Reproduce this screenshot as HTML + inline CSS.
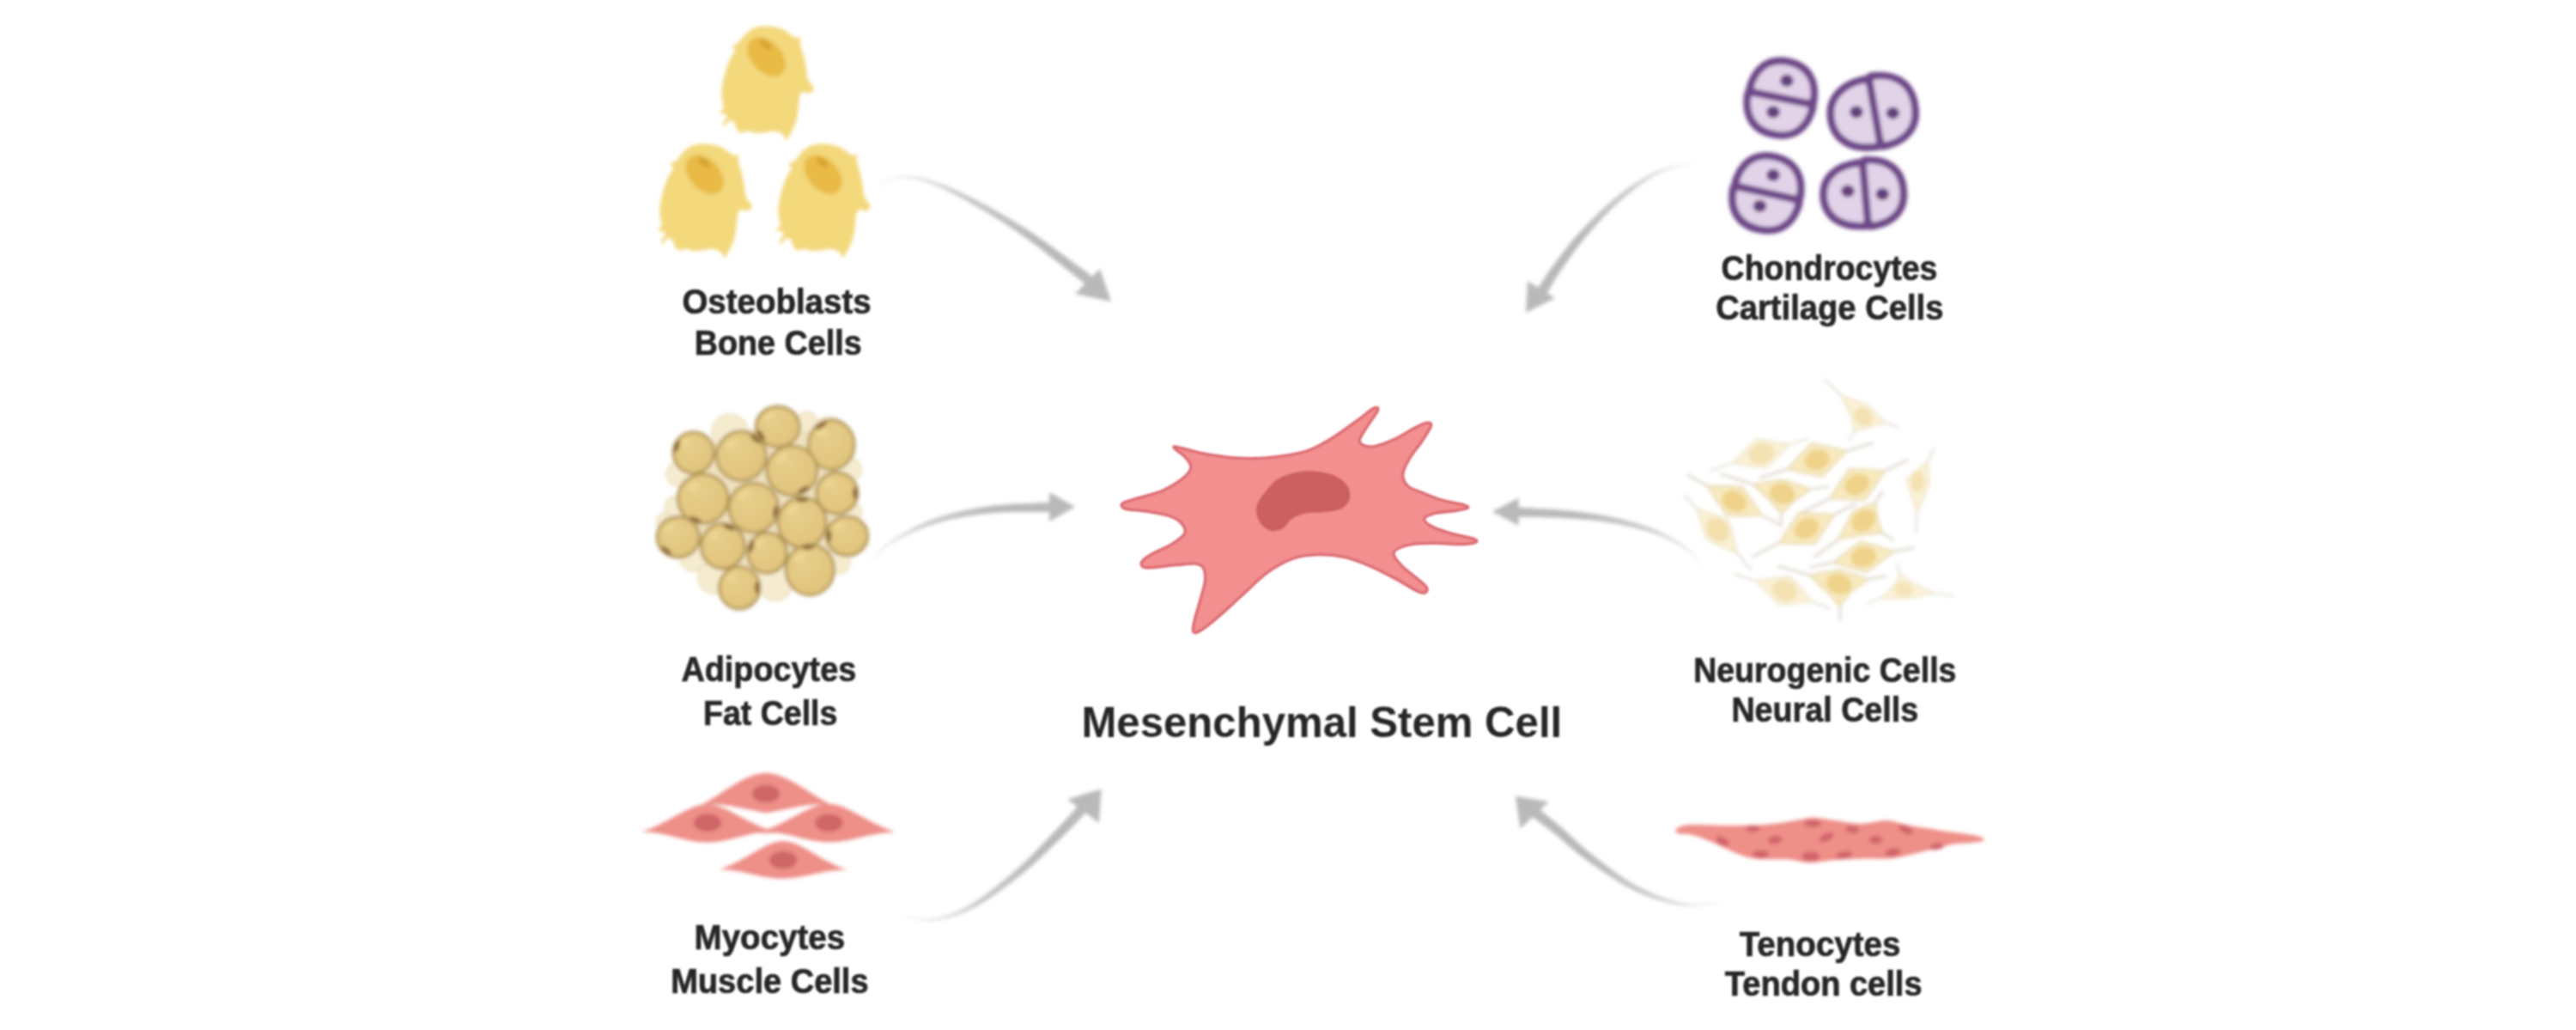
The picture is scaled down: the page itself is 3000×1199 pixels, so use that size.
<!DOCTYPE html>
<html lang="en"><head><meta charset="utf-8"><title>Mesenchymal Stem Cell differentiation</title>
<style>html,body{margin:0;padding:0;background:#fff}body{width:3000px;height:1199px;overflow:hidden}svg{display:block}</style>
</head><body>
<svg width="3000" height="1199" viewBox="0 0 3000 1199">
<defs><radialGradient id="adg" cx="0.4" cy="0.35" r="0.75"><stop offset="0" stop-color="#e7cf8a"/><stop offset="0.75" stop-color="#e2c680"/><stop offset="1" stop-color="#dcbe76"/></radialGradient><filter id="soft" x="-2%" y="-2%" width="104%" height="104%"><feGaussianBlur stdDeviation="1.9"/></filter><filter id="softt" x="-2%" y="-2%" width="104%" height="104%"><feGaussianBlur stdDeviation="1.15"/></filter></defs>
<rect width="3000" height="1199" fill="#fff"/>
<g filter="url(#soft)">
<g id="arrows"><linearGradient id="a1" gradientUnits="userSpaceOnUse" x1="1023.0" y1="216.0" x2="1270.0" y2="328.0"><stop offset="0" stop-color="#bdbcbc" stop-opacity="0.15"/><stop offset="0.35" stop-color="#bdbcbc" stop-opacity="0.8"/><stop offset="0.7" stop-color="#bab9b9" stop-opacity="1"/></linearGradient><path d="M1023.2 216.5L1024.8 215.9L1026.8 215.0L1029.1 213.9L1031.8 212.7L1034.6 211.4L1037.6 210.2L1040.7 209.1L1043.8 208.3L1047.0 207.6L1050.1 207.4L1053.2 207.4L1056.5 207.6L1059.8 208.0L1063.2 208.5L1066.8 209.2L1070.4 210.1L1074.2 211.1L1078.1 212.3L1082.1 213.6L1086.3 215.1L1090.5 216.8L1095.0 218.6L1099.5 220.7L1104.2 222.9L1109.0 225.2L1113.9 227.7L1118.9 230.3L1124.0 233.1L1129.2 235.9L1134.4 238.9L1139.8 241.9L1145.3 245.2L1150.9 248.5L1156.7 252.0L1162.4 255.6L1168.3 259.2L1174.1 263.0L1180.0 266.9L1185.8 270.8L1191.5 274.7L1197.4 278.9L1203.5 283.4L1209.8 288.1L1216.1 293.0L1222.4 297.9L1228.5 302.7L1234.3 307.2L1239.6 311.5L1244.5 315.3L1248.6 318.5L1252.1 321.2L1254.9 323.5L1257.3 325.4L1259.3 327.0L1261.0 328.3L1262.3 329.4L1263.4 330.4L1264.4 331.2L1265.4 332.0L1266.3 332.7L1273.7 323.3L1272.8 322.6L1271.9 321.9L1270.9 321.1L1269.7 320.2L1268.3 319.1L1266.6 317.7L1264.5 316.2L1262.0 314.3L1258.9 312.1L1255.4 309.5L1251.2 306.4L1246.3 302.8L1240.8 298.7L1234.9 294.3L1228.6 289.7L1222.1 285.0L1215.5 280.3L1209.0 275.7L1202.6 271.3L1196.5 267.3L1190.5 263.5L1184.5 259.7L1178.5 256.1L1172.5 252.4L1166.4 248.9L1160.5 245.5L1154.6 242.2L1148.8 239.0L1143.1 236.0L1137.6 233.1L1132.2 230.3L1126.8 227.7L1121.6 225.1L1116.4 222.6L1111.4 220.3L1106.4 218.1L1101.5 216.0L1096.8 214.1L1092.2 212.4L1087.7 210.9L1083.4 209.5L1079.3 208.3L1075.2 207.3L1071.3 206.4L1067.5 205.7L1063.8 205.1L1060.2 204.7L1056.7 204.5L1053.3 204.5L1049.9 204.6L1046.6 205.1L1043.2 205.9L1039.9 207.0L1036.8 208.3L1033.8 209.7L1031.0 211.1L1028.5 212.5L1026.2 213.8L1024.3 214.8L1022.8 215.5Z" fill="url(#a1)"/><path d="M1281.0 313.0 L1252.0 342.0 L1294.0 351.0 Z" fill="#bab9b9"/><linearGradient id="a2" gradientUnits="userSpaceOnUse" x1="1972.0" y1="190.0" x2="1796.0" y2="339.0"><stop offset="0" stop-color="#bdbcbc" stop-opacity="0.15"/><stop offset="0.35" stop-color="#bdbcbc" stop-opacity="0.8"/><stop offset="0.7" stop-color="#bab9b9" stop-opacity="1"/></linearGradient><path d="M1971.9 189.5L1969.5 189.9L1966.5 190.3L1962.9 190.8L1958.8 191.4L1954.5 192.1L1949.8 192.9L1945.1 193.9L1940.4 195.2L1935.7 196.6L1931.2 198.3L1926.9 200.2L1922.6 202.4L1918.2 204.7L1913.8 207.2L1909.3 209.9L1904.9 212.8L1900.4 215.8L1895.9 219.0L1891.5 222.2L1887.0 225.6L1882.6 229.2L1878.0 233.0L1873.4 237.1L1868.8 241.2L1864.2 245.5L1859.7 249.9L1855.2 254.3L1850.9 258.6L1846.7 262.9L1842.8 267.1L1838.9 271.3L1835.1 275.5L1831.5 279.8L1828.0 284.1L1824.5 288.4L1821.3 292.6L1818.1 296.7L1815.1 300.6L1812.3 304.3L1809.6 307.9L1807.1 311.3L1804.6 314.8L1802.3 318.2L1800.1 321.4L1798.1 324.5L1796.3 327.4L1794.6 330.0L1793.2 332.3L1791.9 334.3L1790.9 335.8L1801.1 342.2L1802.1 340.5L1803.3 338.5L1804.7 336.1L1806.2 333.5L1807.9 330.6L1809.7 327.5L1811.7 324.3L1813.8 321.0L1816.0 317.6L1818.4 314.1L1820.9 310.5L1823.5 306.7L1826.3 302.7L1829.3 298.6L1832.3 294.4L1835.5 290.1L1838.8 285.7L1842.2 281.4L1845.7 277.1L1849.2 272.9L1853.0 268.7L1856.9 264.3L1861.0 259.8L1865.2 255.3L1869.4 250.8L1873.8 246.4L1878.1 242.1L1882.5 238.0L1886.7 234.1L1891.0 230.4L1895.1 226.9L1899.4 223.5L1903.6 220.2L1907.8 217.1L1912.0 214.1L1916.3 211.2L1920.4 208.6L1924.6 206.1L1928.7 203.8L1932.8 201.7L1936.9 199.8L1941.3 198.2L1945.9 196.8L1950.4 195.5L1954.9 194.4L1959.2 193.4L1963.2 192.6L1966.7 191.8L1969.8 191.1L1972.1 190.5Z" fill="url(#a2)"/><path d="M1779.0 327.0 L1811.0 347.0 L1777.0 364.0 Z" fill="#bab9b9"/><linearGradient id="a3" gradientUnits="userSpaceOnUse" x1="1014.0" y1="653.5" x2="1224.0" y2="590.4"><stop offset="0" stop-color="#bdbcbc" stop-opacity="0.15"/><stop offset="0.35" stop-color="#bdbcbc" stop-opacity="0.8"/><stop offset="0.7" stop-color="#bab9b9" stop-opacity="1"/></linearGradient><path d="M1014.4 653.9L1015.8 652.6L1017.4 650.9L1019.2 649.0L1021.3 646.8L1023.6 644.4L1026.2 642.0L1029.0 639.5L1032.0 637.0L1035.3 634.6L1038.9 632.3L1042.8 630.1L1047.0 627.7L1051.6 625.3L1056.5 622.8L1061.5 620.4L1066.8 618.0L1072.2 615.7L1077.7 613.6L1083.3 611.5L1088.9 609.7L1094.6 608.0L1100.4 606.5L1106.4 605.0L1112.6 603.6L1118.8 602.4L1125.1 601.2L1131.6 600.2L1138.2 599.2L1144.8 598.4L1151.5 597.6L1158.6 597.0L1166.4 596.6L1174.7 596.3L1183.2 596.1L1191.6 596.0L1199.7 596.0L1207.2 596.0L1214.0 596.0L1219.7 596.0L1224.2 595.9L1223.8 584.9L1219.5 585.1L1213.8 585.3L1207.1 585.6L1199.5 585.9L1191.3 586.2L1182.8 586.6L1174.2 587.1L1165.8 587.7L1157.8 588.5L1150.5 589.4L1143.7 590.4L1137.0 591.5L1130.3 592.7L1123.8 594.1L1117.3 595.5L1111.0 597.1L1104.8 598.7L1098.8 600.5L1092.9 602.3L1087.1 604.3L1081.4 606.4L1075.8 608.7L1070.2 611.2L1064.8 613.8L1059.6 616.5L1054.5 619.2L1049.7 621.9L1045.2 624.6L1041.0 627.2L1037.1 629.7L1033.6 632.2L1030.3 634.9L1027.3 637.7L1024.6 640.4L1022.1 643.1L1020.0 645.6L1018.0 647.9L1016.3 650.0L1014.9 651.8L1013.6 653.1Z" fill="url(#a3)"/><path d="M1222.0 573.0 L1222.0 607.0 L1252.0 590.0 Z" fill="#bab9b9"/><linearGradient id="a4" gradientUnits="userSpaceOnUse" x1="1982.5" y1="657.3" x2="1767.0" y2="596.0"><stop offset="0" stop-color="#bdbcbc" stop-opacity="0.15"/><stop offset="0.35" stop-color="#bdbcbc" stop-opacity="0.8"/><stop offset="0.7" stop-color="#bab9b9" stop-opacity="1"/></linearGradient><path d="M1982.9 656.9L1981.7 655.6L1980.2 653.9L1978.4 651.8L1976.4 649.5L1974.2 647.0L1971.8 644.4L1969.3 641.8L1966.5 639.3L1963.6 636.8L1960.7 634.6L1957.5 632.4L1954.3 630.3L1950.9 628.2L1947.3 626.1L1943.5 624.1L1939.7 622.1L1935.7 620.1L1931.5 618.2L1927.2 616.4L1922.8 614.6L1918.3 613.0L1913.5 611.4L1908.5 609.8L1903.4 608.3L1898.2 606.9L1892.9 605.5L1887.7 604.2L1882.4 603.0L1877.2 601.8L1872.0 600.8L1867.0 599.8L1861.9 598.9L1856.9 598.1L1851.9 597.4L1846.8 596.8L1841.8 596.2L1836.8 595.6L1831.7 595.1L1826.5 594.6L1821.3 594.1L1815.8 593.6L1809.8 593.1L1803.6 592.7L1797.3 592.2L1791.1 591.9L1785.1 591.5L1779.5 591.2L1774.6 590.9L1770.5 590.7L1767.2 590.5L1766.8 601.5L1770.0 601.6L1774.2 601.7L1779.1 601.8L1784.7 601.9L1790.6 602.0L1796.8 602.2L1803.1 602.4L1809.3 602.6L1815.2 602.8L1820.7 603.1L1825.8 603.4L1830.9 603.8L1836.0 604.1L1841.0 604.5L1846.0 604.9L1850.9 605.3L1855.9 605.8L1860.8 606.4L1865.8 607.1L1870.8 607.8L1875.8 608.7L1881.0 609.6L1886.3 610.6L1891.5 611.7L1896.8 612.8L1901.9 614.0L1907.0 615.2L1911.9 616.6L1916.6 617.9L1921.2 619.4L1925.5 620.9L1929.7 622.5L1933.9 624.1L1937.9 625.8L1941.7 627.6L1945.5 629.5L1949.1 631.3L1952.5 633.2L1955.8 635.1L1958.9 637.0L1961.9 639.1L1964.8 641.3L1967.6 643.6L1970.3 646.0L1972.8 648.4L1975.1 650.7L1977.2 652.9L1979.1 654.8L1980.8 656.4L1982.1 657.7Z" fill="url(#a4)"/><path d="M1768.6 579.7 L1768.6 611.8 L1737.7 595.4 Z" fill="#bab9b9"/><linearGradient id="a5" gradientUnits="userSpaceOnUse" x1="1052.9" y1="1066.0" x2="1260.5" y2="941.5"><stop offset="0" stop-color="#bdbcbc" stop-opacity="0.15"/><stop offset="0.35" stop-color="#bdbcbc" stop-opacity="0.8"/><stop offset="0.7" stop-color="#bab9b9" stop-opacity="1"/></linearGradient><path d="M1052.8 1066.5L1054.7 1067.0L1057.0 1067.7L1059.8 1068.5L1062.9 1069.4L1066.4 1070.4L1070.0 1071.2L1073.9 1071.9L1078.0 1072.4L1082.1 1072.5L1086.2 1072.3L1090.3 1071.7L1094.6 1071.0L1099.0 1070.1L1103.6 1069.0L1108.3 1067.7L1113.1 1066.2L1118.0 1064.4L1123.0 1062.3L1128.1 1060.0L1133.3 1057.4L1138.7 1054.4L1144.3 1051.0L1150.1 1047.4L1155.9 1043.4L1161.8 1039.2L1167.8 1034.9L1173.6 1030.6L1179.4 1026.2L1184.9 1021.8L1190.3 1017.6L1195.5 1013.2L1200.7 1008.7L1205.8 1004.1L1210.9 999.5L1215.8 994.8L1220.6 990.2L1225.1 985.8L1229.5 981.5L1233.6 977.5L1237.5 973.7L1241.1 970.2L1244.7 966.6L1248.1 963.2L1251.2 959.9L1254.2 956.9L1256.9 954.0L1259.4 951.4L1261.5 949.1L1263.4 947.2L1264.9 945.6L1256.1 937.4L1254.6 939.1L1252.8 941.1L1250.7 943.5L1248.4 946.2L1245.8 949.1L1243.0 952.2L1240.0 955.6L1236.8 959.0L1233.4 962.6L1229.9 966.3L1226.2 970.1L1222.2 974.3L1218.0 978.8L1213.6 983.3L1209.1 988.1L1204.4 992.8L1199.6 997.6L1194.8 1002.3L1189.9 1006.8L1184.9 1011.2L1179.8 1015.6L1174.5 1020.2L1169.0 1024.7L1163.4 1029.3L1157.7 1033.7L1152.1 1038.1L1146.5 1042.2L1141.0 1046.0L1135.7 1049.5L1130.7 1052.6L1125.8 1055.3L1120.9 1057.8L1116.2 1060.0L1111.5 1061.9L1106.9 1063.7L1102.5 1065.1L1098.1 1066.4L1093.8 1067.5L1089.7 1068.4L1085.8 1069.1L1082.0 1069.6L1078.1 1069.6L1074.2 1069.4L1070.4 1068.9L1066.8 1068.3L1063.4 1067.6L1060.2 1066.9L1057.4 1066.3L1054.9 1065.8L1053.0 1065.5Z" fill="url(#a5)"/><path d="M1243.0 930.4 L1279.9 958.0 L1282.6 918.5 Z" fill="#bab9b9"/><linearGradient id="a6" gradientUnits="userSpaceOnUse" x1="2003.8" y1="1050.4" x2="1788.0" y2="946.0"><stop offset="0" stop-color="#bdbcbc" stop-opacity="0.15"/><stop offset="0.35" stop-color="#bdbcbc" stop-opacity="0.8"/><stop offset="0.7" stop-color="#bab9b9" stop-opacity="1"/></linearGradient><path d="M2003.7 1049.9L2001.3 1050.0L1998.1 1050.3L1994.5 1050.8L1990.4 1051.2L1985.9 1051.7L1981.2 1052.0L1976.3 1052.2L1971.4 1052.2L1966.5 1051.9L1961.7 1051.2L1956.8 1050.2L1951.6 1048.9L1946.3 1047.5L1940.8 1045.8L1935.3 1043.9L1929.7 1041.9L1924.0 1039.6L1918.4 1037.2L1912.9 1034.6L1907.4 1031.9L1902.0 1028.8L1896.4 1025.5L1890.7 1021.8L1885.1 1017.9L1879.4 1013.9L1873.8 1009.8L1868.4 1005.7L1863.1 1001.7L1858.1 997.8L1853.4 994.2L1849.1 990.7L1844.9 987.3L1841.0 984.0L1837.3 980.6L1833.7 977.3L1830.3 974.1L1826.9 971.0L1823.7 968.0L1820.4 965.0L1817.3 962.2L1814.1 959.6L1811.0 957.0L1807.9 954.4L1805.0 952.0L1802.1 949.7L1799.5 947.6L1797.1 945.6L1795.0 943.9L1793.2 942.5L1791.7 941.3L1784.3 950.7L1785.8 951.9L1787.7 953.3L1789.9 954.9L1792.4 956.8L1795.0 958.8L1797.9 960.9L1800.9 963.2L1804.0 965.6L1807.2 968.1L1810.3 970.6L1813.5 973.1L1816.7 975.8L1820.0 978.7L1823.5 981.7L1827.1 984.8L1830.9 988.0L1834.8 991.3L1839.0 994.6L1843.4 998.0L1848.0 1001.4L1852.9 1004.9L1858.0 1008.6L1863.5 1012.4L1869.2 1016.3L1875.0 1020.3L1880.9 1024.1L1886.9 1027.9L1892.9 1031.4L1898.8 1034.6L1904.6 1037.5L1910.3 1040.1L1916.1 1042.6L1922.0 1044.8L1927.9 1046.8L1933.7 1048.7L1939.5 1050.3L1945.2 1051.8L1950.7 1053.0L1956.0 1054.0L1961.1 1054.8L1966.2 1055.3L1971.4 1055.4L1976.5 1055.1L1981.4 1054.6L1986.2 1054.0L1990.7 1053.3L1994.7 1052.5L1998.4 1051.8L2001.4 1051.3L2003.9 1050.9Z" fill="url(#a6)"/><path d="M1803.7 933.2 L1770.4 964.6 L1764.9 926.8 Z" fill="#bab9b9"/></g>
<g transform="translate(820,20) scale(0.15045)"><g><path d="M480.0 70.0C513.3 71.7 565.0 77.0 600.0 90.0C635.0 103.0 669.7 136.3 690.0 148.0C710.3 159.7 712.3 159.3 722.0 160.0C731.7 160.7 744.7 145.3 748.0 152.0C751.3 158.7 738.3 175.3 742.0 200.0C745.7 224.7 762.0 266.7 770.0 300.0C778.0 333.3 784.7 370.0 790.0 400.0C795.3 430.0 792.3 455.3 802.0 480.0C811.7 504.7 845.8 530.0 848.0 548.0C850.2 566.0 829.3 583.0 815.0 588.0C800.7 593.0 775.0 572.7 762.0 578.0C749.0 583.3 742.8 596.3 737.0 620.0C731.2 643.7 732.0 686.7 727.0 720.0C722.0 753.3 716.8 790.0 707.0 820.0C697.2 850.0 679.8 878.7 668.0 900.0C656.2 921.3 646.7 947.7 636.0 948.0C625.3 948.3 620.0 913.0 604.0 902.0C588.0 891.0 562.3 883.7 540.0 882.0C517.7 880.3 493.3 889.5 470.0 892.0C446.7 894.5 421.7 898.7 400.0 897.0C378.3 895.3 359.7 882.8 340.0 882.0C320.3 881.2 296.2 894.0 282.0 892.0C267.8 890.0 263.3 883.3 255.0 870.0C246.7 856.7 242.5 823.3 232.0 812.0C221.5 800.7 205.2 796.0 192.0 802.0C178.8 808.0 160.0 846.7 153.0 848.0C146.0 849.3 145.5 824.3 150.0 810.0C154.5 795.7 184.7 774.5 180.0 762.0C175.3 749.5 127.0 745.3 122.0 735.0C117.0 724.7 147.8 722.5 150.0 700.0C152.2 677.5 135.0 636.7 135.0 600.0C135.0 563.3 140.8 521.7 150.0 480.0C159.2 438.3 175.3 387.7 190.0 350.0C204.7 312.3 234.2 275.0 238.0 254.0C241.8 233.0 209.0 233.0 213.0 224.0C217.0 215.0 242.5 217.3 262.0 200.0C281.5 182.7 307.0 140.0 330.0 120.0C353.0 100.0 375.0 88.3 400.0 80.0C425.0 71.7 446.7 68.3 480.0 70.0Z" fill="#f3d87c"/><ellipse cx="482" cy="306" rx="176" ry="116" transform="rotate(47 482 306)" fill="#e9ba45"/><ellipse cx="478" cy="212" rx="52" ry="28" transform="rotate(40 478 212)" fill="#d7a433"/></g><g transform="translate(-478.6,910.6)"><path d="M480.0 70.0C513.3 71.7 565.0 77.0 600.0 90.0C635.0 103.0 669.7 136.3 690.0 148.0C710.3 159.7 712.3 159.3 722.0 160.0C731.7 160.7 744.7 145.3 748.0 152.0C751.3 158.7 738.3 175.3 742.0 200.0C745.7 224.7 762.0 266.7 770.0 300.0C778.0 333.3 784.7 370.0 790.0 400.0C795.3 430.0 792.3 455.3 802.0 480.0C811.7 504.7 845.8 530.0 848.0 548.0C850.2 566.0 829.3 583.0 815.0 588.0C800.7 593.0 775.0 572.7 762.0 578.0C749.0 583.3 742.8 596.3 737.0 620.0C731.2 643.7 732.0 686.7 727.0 720.0C722.0 753.3 716.8 790.0 707.0 820.0C697.2 850.0 679.8 878.7 668.0 900.0C656.2 921.3 646.7 947.7 636.0 948.0C625.3 948.3 620.0 913.0 604.0 902.0C588.0 891.0 562.3 883.7 540.0 882.0C517.7 880.3 493.3 889.5 470.0 892.0C446.7 894.5 421.7 898.7 400.0 897.0C378.3 895.3 359.7 882.8 340.0 882.0C320.3 881.2 296.2 894.0 282.0 892.0C267.8 890.0 263.3 883.3 255.0 870.0C246.7 856.7 242.5 823.3 232.0 812.0C221.5 800.7 205.2 796.0 192.0 802.0C178.8 808.0 160.0 846.7 153.0 848.0C146.0 849.3 145.5 824.3 150.0 810.0C154.5 795.7 184.7 774.5 180.0 762.0C175.3 749.5 127.0 745.3 122.0 735.0C117.0 724.7 147.8 722.5 150.0 700.0C152.2 677.5 135.0 636.7 135.0 600.0C135.0 563.3 140.8 521.7 150.0 480.0C159.2 438.3 175.3 387.7 190.0 350.0C204.7 312.3 234.2 275.0 238.0 254.0C241.8 233.0 209.0 233.0 213.0 224.0C217.0 215.0 242.5 217.3 262.0 200.0C281.5 182.7 307.0 140.0 330.0 120.0C353.0 100.0 375.0 88.3 400.0 80.0C425.0 71.7 446.7 68.3 480.0 70.0Z" fill="#f3d87c"/><ellipse cx="482" cy="306" rx="176" ry="116" transform="rotate(47 482 306)" fill="#e9ba45"/><ellipse cx="478" cy="212" rx="52" ry="28" transform="rotate(40 478 212)" fill="#d7a433"/></g><g transform="translate(438.7,910.6)"><path d="M480.0 70.0C513.3 71.7 565.0 77.0 600.0 90.0C635.0 103.0 669.7 136.3 690.0 148.0C710.3 159.7 712.3 159.3 722.0 160.0C731.7 160.7 744.7 145.3 748.0 152.0C751.3 158.7 738.3 175.3 742.0 200.0C745.7 224.7 762.0 266.7 770.0 300.0C778.0 333.3 784.7 370.0 790.0 400.0C795.3 430.0 792.3 455.3 802.0 480.0C811.7 504.7 845.8 530.0 848.0 548.0C850.2 566.0 829.3 583.0 815.0 588.0C800.7 593.0 775.0 572.7 762.0 578.0C749.0 583.3 742.8 596.3 737.0 620.0C731.2 643.7 732.0 686.7 727.0 720.0C722.0 753.3 716.8 790.0 707.0 820.0C697.2 850.0 679.8 878.7 668.0 900.0C656.2 921.3 646.7 947.7 636.0 948.0C625.3 948.3 620.0 913.0 604.0 902.0C588.0 891.0 562.3 883.7 540.0 882.0C517.7 880.3 493.3 889.5 470.0 892.0C446.7 894.5 421.7 898.7 400.0 897.0C378.3 895.3 359.7 882.8 340.0 882.0C320.3 881.2 296.2 894.0 282.0 892.0C267.8 890.0 263.3 883.3 255.0 870.0C246.7 856.7 242.5 823.3 232.0 812.0C221.5 800.7 205.2 796.0 192.0 802.0C178.8 808.0 160.0 846.7 153.0 848.0C146.0 849.3 145.5 824.3 150.0 810.0C154.5 795.7 184.7 774.5 180.0 762.0C175.3 749.5 127.0 745.3 122.0 735.0C117.0 724.7 147.8 722.5 150.0 700.0C152.2 677.5 135.0 636.7 135.0 600.0C135.0 563.3 140.8 521.7 150.0 480.0C159.2 438.3 175.3 387.7 190.0 350.0C204.7 312.3 234.2 275.0 238.0 254.0C241.8 233.0 209.0 233.0 213.0 224.0C217.0 215.0 242.5 217.3 262.0 200.0C281.5 182.7 307.0 140.0 330.0 120.0C353.0 100.0 375.0 88.3 400.0 80.0C425.0 71.7 446.7 68.3 480.0 70.0Z" fill="#f3d87c"/><ellipse cx="482" cy="306" rx="176" ry="116" transform="rotate(47 482 306)" fill="#e9ba45"/><ellipse cx="478" cy="212" rx="52" ry="28" transform="rotate(40 478 212)" fill="#d7a433"/></g></g>
<g transform="translate(1990,50) scale(0.23296)"><g transform="translate(360,275) rotate(11.5)" fill="#e2d3e9" stroke="#6d4787" stroke-width="37" stroke-linejoin="round"><path d="M-0.965 -185.5L2.965 -185.5C102.497 -185.5 163.5 -117.83 163.5 -7.42L163.5 -30C163.5 -13.431 150.069 0 133.5 0L-131.5 0C-148.069 0 -161.5 -13.431 -161.5 -30L-161.5 -7.42C-161.5 -117.83 -100.497 -185.5 -0.965 -185.5Z"/><path d="M-135.5 0L135.5 0C152.069 0 165.5 13.431 165.5 30L165.5 7.42C165.5 117.83 104.497 185.5 4.965 185.5L-4.965 185.5C-104.497 185.5 -165.5 117.83 -165.5 7.42L-165.5 30C-165.5 13.431 -152.069 0 -135.5 0Z"/></g><ellipse cx="390" cy="188" rx="33" ry="30" fill="#643f7b"/><ellipse cx="322" cy="345" rx="33" ry="30" fill="#643f7b"/><g transform="translate(820,345) rotate(-10)" fill="#e2d3e9" stroke="#6d4787" stroke-width="37" stroke-linejoin="round"><path d="M1.1 -167.5L-20 -167.5C-3.431 -167.5 10 -154.069 10 -137.5L10 144.5C10 161.069 -3.431 174.5 -20 174.5L1.1 174.5C-131.332 174.5 -212.5 109.748 -212.5 4.1L-212.5 2.9C-212.5 -102.748 -131.332 -167.5 1.1 -167.5Z"/><path d="M40 -177.5L18.1 -177.5C138.628 -177.5 212.5 -112.074 212.5 -5.325L212.5 5.325C212.5 112.074 138.628 177.5 18.1 177.5L40 177.5C23.431 177.5 10 164.069 10 147.5L10 -147.5C10 -164.069 23.431 -177.5 40 -177.5Z"/></g><ellipse cx="738" cy="345" rx="33" ry="30" fill="#643f7b"/><ellipse cx="920" cy="350" rx="33" ry="30" fill="#643f7b"/><g transform="translate(290,750) rotate(12.5)" fill="#e2d3e9" stroke="#6d4787" stroke-width="37" stroke-linejoin="round"><path d="M-1.055 -185.5L3.055 -185.5C104.391 -185.5 166.5 -117.83 166.5 -7.42L166.5 -30C166.5 -13.431 153.069 0 136.5 0L-134.5 0C-151.069 0 -164.5 -13.431 -164.5 -30L-164.5 -7.42C-164.5 -117.83 -102.391 -185.5 -1.055 -185.5Z"/><path d="M-138.5 0L138.5 0C155.069 0 168.5 13.431 168.5 30L168.5 7.42C168.5 117.83 106.391 185.5 5.055 185.5L-5.055 185.5C-106.391 185.5 -168.5 117.83 -168.5 7.42L-168.5 30C-168.5 13.431 -155.069 0 -138.5 0Z"/></g><ellipse cx="322" cy="660" rx="33" ry="30" fill="#643f7b"/><ellipse cx="255" cy="815" rx="33" ry="30" fill="#643f7b"/><g transform="translate(773,752) rotate(-5)" fill="#e2d3e9" stroke="#6d4787" stroke-width="37" stroke-linejoin="round"><path d="M1.58 -155.5L-20 -155.5C-3.431 -155.5 10 -142.069 10 -125.5L10 132.5C10 149.069 -3.431 162.5 -20 162.5L1.58 162.5C-123.71 162.5 -200.5 102.126 -200.5 3.62L-200.5 3.38C-200.5 -95.1256 -123.71 -155.5 1.58 -155.5Z"/><path d="M40 -165.5L17.62 -165.5C131.006 -165.5 200.5 -104.497 200.5 -4.965L200.5 4.965C200.5 104.497 131.006 165.5 17.62 165.5L40 165.5C23.431 165.5 10 152.069 10 135.5L10 -135.5C10 -152.069 23.431 -165.5 40 -165.5Z"/></g><ellipse cx="695" cy="740" rx="33" ry="30" fill="#643f7b"/><ellipse cx="868" cy="755" rx="33" ry="30" fill="#643f7b"/></g>
<g transform="translate(740,460) scale(0.26224)"><path d="M240.0 240.0C268.3 196.7 374.7 210.0 440.0 190.0C505.3 170.0 558.7 118.3 632.0 120.0C705.3 121.7 830.3 148.3 880.0 200.0C929.7 251.7 916.7 359.2 930.0 430.0C943.3 500.8 983.3 565.0 960.0 625.0C936.7 685.0 846.7 760.8 790.0 790.0C733.3 819.2 674.7 786.7 620.0 800.0C565.3 813.3 503.7 883.3 462.0 870.0C420.3 856.7 417.0 758.3 370.0 720.0C323.0 681.7 196.7 685.0 180.0 640.0C163.3 595.0 260.0 516.7 270.0 450.0C280.0 383.3 211.7 283.3 240.0 240.0Z" fill="#efe2bf"/><circle cx="420" cy="165" r="81.0" fill="#f5ecd0" stroke="#e9dcb8" stroke-width="6"/><circle cx="860" cy="175" r="78.2" fill="#f5ecd0" stroke="#e9dcb8" stroke-width="6"/><circle cx="195" cy="350" r="57.0" fill="#f5ecd0" stroke="#e9dcb8" stroke-width="6"/><circle cx="950" cy="330" r="53.4" fill="#f5ecd0" stroke="#e9dcb8" stroke-width="6"/><circle cx="185" cy="500" r="53.4" fill="#f5ecd0" stroke="#e9dcb8" stroke-width="6"/><circle cx="260" cy="720" r="62.6" fill="#f5ecd0" stroke="#e9dcb8" stroke-width="6"/><circle cx="350" cy="810" r="71.8" fill="#f5ecd0" stroke="#e9dcb8" stroke-width="6"/><circle cx="620" cy="830" r="81.0" fill="#f5ecd0" stroke="#e9dcb8" stroke-width="6"/><circle cx="900" cy="740" r="53.4" fill="#f5ecd0" stroke="#e9dcb8" stroke-width="6"/><circle cx="960" cy="520" r="44.2" fill="#f5ecd0" stroke="#e9dcb8" stroke-width="6"/><circle cx="560" cy="600" r="55.2" fill="#f5ecd0" stroke="#e9dcb8" stroke-width="6"/><circle cx="760" cy="120" r="46.0" fill="#f5ecd0" stroke="#e9dcb8" stroke-width="6"/><circle cx="130" cy="560" r="36.8" fill="#f5ecd0" stroke="#e9dcb8" stroke-width="6"/><ellipse cx="258" cy="255" rx="90" ry="92" fill="url(#adg)" stroke="#b3975a" stroke-width="12"/><ellipse cx="222.8" cy="210" rx="24.64" ry="12.6" transform="rotate(-35 222.8 210)" fill="#efd99a" opacity=".8"/><ellipse cx="184.704" cy="227.638" rx="28" ry="10" transform="rotate(290 184.704 227.638)" fill="#8d6b3c"/><ellipse cx="470" cy="270" rx="110" ry="110" fill="url(#adg)" stroke="#b3975a" stroke-width="12"/><ellipse cx="426.8" cy="216" rx="30.24" ry="15.12" transform="rotate(-35 426.8 216)" fill="#efd99a" opacity=".8"/><ellipse cx="532.993" cy="194.928" rx="28" ry="10" transform="rotate(40 532.993 194.928)" fill="#8d6b3c"/><ellipse cx="632" cy="140" rx="97" ry="90" fill="url(#adg)" stroke="#b3975a" stroke-width="12"/><ellipse cx="594" cy="96" rx="26.6" ry="12.32" transform="rotate(-35 594 96)" fill="#efd99a" opacity=".8"/><ellipse cx="558.388" cy="179" rx="28" ry="10" transform="rotate(240 558.388 179)" fill="#8d6b3c"/><ellipse cx="870" cy="220" rx="102" ry="110" fill="url(#adg)" stroke="#b3975a" stroke-width="12"/><ellipse cx="830" cy="166" rx="28" ry="15.12" transform="rotate(-35 830 166)" fill="#efd99a" opacity=".8"/><ellipse cx="825" cy="135.13" rx="28" ry="10" transform="rotate(-30 825 135.13)" fill="#8d6b3c"/><ellipse cx="695" cy="335" rx="112" ry="110" fill="url(#adg)" stroke="#b3975a" stroke-width="12"/><ellipse cx="651" cy="281" rx="30.8" ry="15.12" transform="rotate(-35 651 281)" fill="#efd99a" opacity=".8"/><ellipse cx="745" cy="419.87" rx="28" ry="10" transform="rotate(150 745 419.87)" fill="#8d6b3c"/><ellipse cx="300" cy="460" rx="112" ry="110" fill="url(#adg)" stroke="#b3975a" stroke-width="12"/><ellipse cx="256" cy="406" rx="30.8" ry="15.12" transform="rotate(-35 256 406)" fill="#efd99a" opacity=".8"/><ellipse cx="265.798" cy="552.09" rx="28" ry="10" transform="rotate(200 265.798 552.09)" fill="#8d6b3c"/><ellipse cx="525" cy="500" rx="110" ry="110" fill="url(#adg)" stroke="#b3975a" stroke-width="12"/><ellipse cx="481.8" cy="446" rx="30.24" ry="15.12" transform="rotate(-35 481.8 446)" fill="#efd99a" opacity=".8"/><ellipse cx="621.511" cy="517.018" rx="28" ry="10" transform="rotate(100 621.511 517.018)" fill="#8d6b3c"/><ellipse cx="895" cy="435" rx="92" ry="92" fill="url(#adg)" stroke="#b3975a" stroke-width="12"/><ellipse cx="859" cy="390" rx="25.2" ry="12.6" transform="rotate(-35 859 390)" fill="#efd99a" opacity=".8"/><ellipse cx="975" cy="435" rx="28" ry="10" transform="rotate(90 975 435)" fill="#8d6b3c"/><ellipse cx="740" cy="565" rx="107" ry="112" fill="url(#adg)" stroke="#b3975a" stroke-width="12"/><ellipse cx="698" cy="510" rx="29.4" ry="15.4" transform="rotate(-35 698 510)" fill="#efd99a" opacity=".8"/><ellipse cx="740" cy="465" rx="28" ry="10" transform="rotate(0 740 465)" fill="#8d6b3c"/><ellipse cx="190" cy="630" rx="94" ry="90" fill="url(#adg)" stroke="#b3975a" stroke-width="12"/><ellipse cx="153.2" cy="586" rx="25.76" ry="12.32" transform="rotate(-35 153.2 586)" fill="#efd99a" opacity=".8"/><ellipse cx="137.291" cy="689.751" rx="28" ry="10" transform="rotate(220 137.291 689.751)" fill="#8d6b3c"/><ellipse cx="388" cy="670" rx="97" ry="100" fill="url(#adg)" stroke="#b3975a" stroke-width="12"/><ellipse cx="350" cy="621" rx="26.6" ry="13.72" transform="rotate(-35 350 621)" fill="#efd99a" opacity=".8"/><ellipse cx="417.072" cy="587.307" rx="28" ry="10" transform="rotate(20 417.072 587.307)" fill="#8d6b3c"/><ellipse cx="585" cy="700" rx="87" ry="90" fill="url(#adg)" stroke="#b3975a" stroke-width="12"/><ellipse cx="551" cy="656" rx="23.8" ry="12.32" transform="rotate(-35 551 656)" fill="#efd99a" opacity=".8"/><ellipse cx="514.523" cy="673.322" rx="28" ry="10" transform="rotate(-70 514.523 673.322)" fill="#8d6b3c"/><ellipse cx="940" cy="625" rx="92" ry="87" fill="url(#adg)" stroke="#b3975a" stroke-width="12"/><ellipse cx="904" cy="582.5" rx="25.2" ry="11.9" transform="rotate(-35 904 582.5)" fill="#efd99a" opacity=".8"/><ellipse cx="860" cy="625" rx="28" ry="10" transform="rotate(270 860 625)" fill="#8d6b3c"/><ellipse cx="775" cy="775" rx="107" ry="112" fill="url(#adg)" stroke="#b3975a" stroke-width="12"/><ellipse cx="733" cy="720" rx="29.4" ry="15.4" transform="rotate(-35 733 720)" fill="#efd99a" opacity=".8"/><ellipse cx="766.72" cy="675.381" rx="28" ry="10" transform="rotate(-5 766.72 675.381)" fill="#8d6b3c"/><ellipse cx="462" cy="855" rx="90" ry="94" fill="url(#adg)" stroke="#b3975a" stroke-width="12"/><ellipse cx="426.8" cy="809" rx="24.64" ry="12.88" transform="rotate(-35 426.8 809)" fill="#efd99a" opacity=".8"/><ellipse cx="540" cy="855" rx="28" ry="10" transform="rotate(90 540 855)" fill="#8d6b3c"/></g>
<g transform="translate(1940,430) scale(0.301)" opacity="1"><g opacity="0.65"><path d="M743.2 161.4 L615.0 40.0" stroke="#d3cbbb" stroke-width="6.5" stroke-linecap="round" fill="none"/><path d="M793.8 190.5 L900.0 222.0" stroke="#d3cbbb" stroke-width="6.5" stroke-linecap="round" fill="none"/><path d="M748.9 207.3 L708.0 272.0" stroke="#d3cbbb" stroke-width="6.5" stroke-linecap="round" fill="none"/><path d="M677.9 99.5Q731.7 118.3 788.1 141.9Q820.5 174.1 848.7 206.8Q817.0 217.4 781.2 225.3Q755.1 233.5 729.7 237.8Q722.8 214.0 719.1 187.7Q695.8 142.1 677.9 99.5Z" fill="#f8eabf" stroke="#dfd0a8" stroke-width="4.5" stroke-linejoin="round"/><ellipse cx="765" cy="182" rx="40" ry="32" transform="rotate(-136.6 765 182)" fill="#efd38b"/></g><g opacity="0.65"><path d="M398.6 315.9 L548.0 268.0" stroke="#d3cbbb" stroke-width="6.5" stroke-linecap="round" fill="none"/><path d="M341.5 334.5 L175.0 390.0" stroke="#d3cbbb" stroke-width="6.5" stroke-linecap="round" fill="none"/><path d="M480.4 289.7Q437.0 335.9 388.4 381.3Q320.4 374.0 256.2 362.9Q301.2 315.4 351.6 268.7Q417.8 277.3 480.4 289.7Z" fill="#f8eabf" stroke="#dfd0a8" stroke-width="4.5" stroke-linejoin="round"/><ellipse cx="370" cy="325" rx="50" ry="39" transform="rotate(161.6 370 325)" fill="#efd38b"/></g><g opacity="0.65"><path d="M988.1 408.0 L1038.0 305.0" stroke="#d3cbbb" stroke-width="6.5" stroke-linecap="round" fill="none"/><path d="M973.9 465.0 L968.0 632.0" stroke="#d3cbbb" stroke-width="6.5" stroke-linecap="round" fill="none"/><path d="M1014.1 354.4Q1018.3 398.8 1019.3 446.0Q995.8 503.1 970.7 554.9Q949.8 491.6 930.7 424.0Q972.3 387.4 1014.1 354.4Z" fill="#f8eabf" stroke="#dfd0a8" stroke-width="4.5" stroke-linejoin="round"/><ellipse cx="975" cy="435" rx="40" ry="26" transform="rotate(92.0 975 435)" fill="#efd38b"/></g><g opacity="0.7"><path d="M179.1 598.5 L72.0 488.0" stroke="#d3cbbb" stroke-width="6.5" stroke-linecap="round" fill="none"/><path d="M219.3 643.0 L330.0 775.0" stroke="#d3cbbb" stroke-width="6.5" stroke-linecap="round" fill="none"/><path d="M120.6 538.2Q180.7 557.6 242.3 581.8Q262.1 648.0 277.1 711.9Q218.1 687.7 157.7 658.2Q136.7 597.3 120.6 538.2Z" fill="#f8eabf" stroke="#dfd0a8" stroke-width="4.5" stroke-linejoin="round"/><ellipse cx="200" cy="620" rx="50" ry="39" transform="rotate(50.0 200 620)" fill="#efd38b"/></g><g opacity="0.65"><path d="M431.5 845.5 L265.0 790.0" stroke="#d3cbbb" stroke-width="6.5" stroke-linecap="round" fill="none"/><path d="M487.9 866.1 L635.0 925.0" stroke="#d3cbbb" stroke-width="6.5" stroke-linecap="round" fill="none"/><path d="M346.2 817.1Q411.4 806.3 480.4 799.3Q527.0 848.6 568.5 898.4Q505.8 906.5 439.6 910.7Q390.2 864.2 346.2 817.1Z" fill="#f8eabf" stroke="#dfd0a8" stroke-width="4.5" stroke-linejoin="round"/><ellipse cx="460" cy="855" rx="50" ry="39" transform="rotate(-161.6 460 855)" fill="#efd38b"/></g><g opacity="0.6"><path d="M912.7 820.9 L895.0 750.0" stroke="#d3cbbb" stroke-width="6.5" stroke-linecap="round" fill="none"/><path d="M949.7 853.9 L1110.0 875.0" stroke="#d3cbbb" stroke-width="6.5" stroke-linecap="round" fill="none"/><path d="M892.1 861.0 L780.0 905.0" stroke="#d3cbbb" stroke-width="6.5" stroke-linecap="round" fill="none"/><path d="M904.5 788.0Q925.5 802.6 946.0 820.8Q994.8 842.9 1037.8 865.5Q983.7 878.3 924.8 888.8Q877.3 887.9 833.2 884.1Q856.8 858.4 885.2 832.1Q893.9 808.4 904.5 788.0Z" fill="#f8eabf" stroke="#dfd0a8" stroke-width="4.5" stroke-linejoin="round"/><ellipse cx="920" cy="850" rx="36" ry="28" transform="rotate(7.5 920 850)" fill="#efd38b"/></g><g opacity="1"><path d="M421.4 470.9 L215.0 405.0" stroke="#d3cbbb" stroke-width="6.5" stroke-linecap="round" fill="none"/><path d="M479.6 475.3 L628.0 452.0" stroke="#d3cbbb" stroke-width="6.5" stroke-linecap="round" fill="none"/><path d="M448.8 510.0 L445.0 605.0" stroke="#d3cbbb" stroke-width="6.5" stroke-linecap="round" fill="none"/><path d="M335.7 443.5Q392.7 433.4 454.1 426.8Q509.5 443.3 560.4 462.6Q528.1 489.4 489.8 515.5Q469.1 538.7 446.9 557.5Q425.7 536.2 406.3 510.6Q367.8 476.9 335.7 443.5Z" fill="#f8eabf" stroke="#dfd0a8" stroke-width="4.5" stroke-linejoin="round"/><ellipse cx="450" cy="480" rx="50" ry="39" transform="rotate(-162.3 450 480)" fill="#efd38b"/></g><g opacity="1"><path d="M613.7 341.3 L800.0 285.0" stroke="#d3cbbb" stroke-width="6.5" stroke-linecap="round" fill="none"/><path d="M556.3 358.9 L365.0 418.0" stroke="#d3cbbb" stroke-width="6.5" stroke-linecap="round" fill="none"/><path d="M699.9 315.3Q655.1 366.0 605.0 415.4Q535.8 402.4 470.4 385.4Q515.0 334.4 565.0 284.6Q634.3 297.9 699.9 315.3Z" fill="#f8eabf" stroke="#dfd0a8" stroke-width="4.5" stroke-linejoin="round"/><ellipse cx="585" cy="350" rx="50" ry="39" transform="rotate(162.8 585 350)" fill="#efd38b"/></g><g opacity="1"><path d="M238.9 495.2 L85.0 408.0" stroke="#d3cbbb" stroke-width="6.5" stroke-linecap="round" fill="none"/><path d="M291.7 523.7 L440.0 600.0" stroke="#d3cbbb" stroke-width="6.5" stroke-linecap="round" fill="none"/><path d="M160.6 450.8Q226.5 450.0 295.3 453.8Q336.3 509.3 371.7 564.9Q304.7 567.7 234.7 566.2Q194.9 508.4 160.6 450.8Z" fill="#f8eabf" stroke="#dfd0a8" stroke-width="4.5" stroke-linejoin="round"/><ellipse cx="265" cy="510" rx="50" ry="39" transform="rotate(-150.5 265 510)" fill="#efd38b"/></g><g opacity="1"><path d="M767.0 431.9 L935.0 350.0" stroke="#d3cbbb" stroke-width="6.5" stroke-linecap="round" fill="none"/><path d="M713.3 458.7 L525.0 555.0" stroke="#d3cbbb" stroke-width="6.5" stroke-linecap="round" fill="none"/><path d="M847.9 392.4Q812.0 449.5 770.6 506.2Q700.3 505.2 633.2 499.7Q668.6 441.6 709.4 383.8Q780.2 385.8 847.9 392.4Z" fill="#f8eabf" stroke="#dfd0a8" stroke-width="4.5" stroke-linejoin="round"/><ellipse cx="740" cy="445" rx="50" ry="39" transform="rotate(152.9 740 445)" fill="#efd38b"/></g><g opacity="1"><path d="M781.3 559.8 L838.0 472.0" stroke="#d3cbbb" stroke-width="6.5" stroke-linecap="round" fill="none"/><path d="M790.1 601.4 L880.0 660.0" stroke="#d3cbbb" stroke-width="6.5" stroke-linecap="round" fill="none"/><path d="M740.8 602.8 L575.0 725.0" stroke="#d3cbbb" stroke-width="6.5" stroke-linecap="round" fill="none"/><path d="M810.3 514.9Q816.6 542.6 818.9 573.5Q830.1 603.2 836.3 631.5Q802.9 637.8 766.6 640.1Q715.6 650.7 668.4 656.2Q693.9 602.4 724.8 547.2Q767.7 528.9 810.3 514.9Z" fill="#f8eabf" stroke="#dfd0a8" stroke-width="4.5" stroke-linejoin="round"/><ellipse cx="765" cy="585" rx="50" ry="39" transform="rotate(143.6 765 585)" fill="#efd38b"/></g><g opacity="1"><path d="M571.8 601.6 L735.0 520.0" stroke="#d3cbbb" stroke-width="6.5" stroke-linecap="round" fill="none"/><path d="M518.4 628.9 L335.0 725.0" stroke="#d3cbbb" stroke-width="6.5" stroke-linecap="round" fill="none"/><path d="M652.3 561.3Q617.0 618.8 576.2 675.9Q505.9 675.6 438.7 670.7Q473.5 612.3 513.8 554.1Q584.6 555.4 652.3 561.3Z" fill="#f8eabf" stroke="#dfd0a8" stroke-width="4.5" stroke-linejoin="round"/><ellipse cx="545" cy="615" rx="50" ry="39" transform="rotate(152.4 545 615)" fill="#efd38b"/></g><g opacity="1"><path d="M794.5 719.7 L960.0 690.0" stroke="#d3cbbb" stroke-width="6.5" stroke-linecap="round" fill="none"/><path d="M735.5 730.6 L555.0 765.0" stroke="#d3cbbb" stroke-width="6.5" stroke-linecap="round" fill="none"/><path d="M883.1 703.8Q832.2 745.5 776.2 785.5Q709.5 768.2 647.1 747.5Q697.9 705.2 753.8 664.5Q820.6 682.5 883.1 703.8Z" fill="#f8eabf" stroke="#dfd0a8" stroke-width="4.5" stroke-linejoin="round"/><ellipse cx="765" cy="725" rx="50" ry="39" transform="rotate(169.2 765 725)" fill="#efd38b"/></g><g opacity="1"><path d="M641.2 821.4 L435.0 760.0" stroke="#d3cbbb" stroke-width="6.5" stroke-linecap="round" fill="none"/><path d="M699.6 825.1 L850.0 800.0" stroke="#d3cbbb" stroke-width="6.5" stroke-linecap="round" fill="none"/><path d="M671.1 860.0 L675.0 970.0" stroke="#d3cbbb" stroke-width="6.5" stroke-linecap="round" fill="none"/><path d="M555.0 795.7Q612.0 783.6 673.4 775.0Q729.8 791.7 781.6 811.4Q750.2 838.5 712.7 864.9Q693.8 893.3 673.1 916.8Q648.9 892.7 626.4 863.7Q587.5 829.7 555.0 795.7Z" fill="#f8eabf" stroke="#dfd0a8" stroke-width="4.5" stroke-linejoin="round"/><ellipse cx="670" cy="830" rx="50" ry="39" transform="rotate(-163.4 670 830)" fill="#efd38b"/></g></g>
<g transform="translate(730,880) scale(0.15537)"><path d="M112 568 C331.6 495.9 463.36 362 600 362 C740 362 875 494.6 1100 566 C900 568 775 648 600 648 C429.2 648 307.2 570 112 568 Z" fill="#ee8f88"/><ellipse cx="605" cy="500" rx="103" ry="66" fill="#cf6667"/><path d="M1005 566 C1232.25 493.2 1368.6 358 1510 358 C1651.68 358 1788.3 495.8 2016 570 C1817.6 572 1693.6 645 1520 645 C1339.75 645 1211 568 1005 566 Z" fill="#ee8f88"/><ellipse cx="1515" cy="502" rx="103" ry="66" fill="#cf6667"/><ellipse cx="1052" cy="565" rx="95" ry="13" fill="#ee8f88"/><path d="M695 850 C908.75 775.8 1037 638 1170 638 C1303.84 638 1432.9 777.1 1648 852 C1452.8 854 1330.8 918 1160 918 C997.25 918 881 852 695 850 Z" fill="#ee8f88"/><ellipse cx="1172" cy="780" rx="103" ry="66" fill="#cf6667"/><path d="M545 372 C700 300 880 128 1043 128 C1200 128 1390 300 1545 372 C1420 338 1210 398 1046 428 C880 398 670 338 545 372Z" fill="#ee8f88"/><ellipse cx="1042" cy="282" rx="103" ry="66" fill="#cf6667"/></g>
<g transform="translate(1940,930) scale(0.1514)"><path d="M76.0 250.0C74.3 241.7 79.3 226.7 100.0 218.0C120.7 209.3 133.3 200.2 200.0 198.0C266.7 195.8 400.0 205.5 500.0 205.0C600.0 204.5 716.7 201.7 800.0 195.0C883.3 188.3 945.0 173.3 1000.0 165.0C1055.0 156.7 1080.0 145.0 1130.0 145.0C1180.0 145.0 1238.3 157.5 1300.0 165.0C1361.7 172.5 1433.3 190.0 1500.0 190.0C1566.7 190.0 1641.7 163.3 1700.0 165.0C1758.3 166.7 1783.3 187.5 1850.0 200.0C1916.7 212.5 2016.7 227.5 2100.0 240.0C2183.3 252.5 2294.2 265.3 2350.0 275.0C2405.8 284.7 2420.0 290.2 2435.0 298.0C2450.0 305.8 2454.2 315.5 2440.0 322.0C2425.8 328.5 2390.0 332.3 2350.0 337.0C2310.0 341.7 2258.3 339.5 2200.0 350.0C2141.7 360.5 2075.0 382.5 2000.0 400.0C1925.0 417.5 1833.3 445.0 1750.0 455.0C1666.7 465.0 1575.0 457.5 1500.0 460.0C1425.0 462.5 1366.7 465.0 1300.0 470.0C1233.3 475.0 1158.3 490.8 1100.0 490.0C1041.7 489.2 1016.7 470.0 950.0 465.0C883.3 460.0 766.7 467.5 700.0 460.0C633.3 452.5 608.3 441.7 550.0 420.0C491.7 398.3 408.3 354.2 350.0 330.0C291.7 305.8 240.0 285.3 200.0 275.0C160.0 264.7 130.7 272.2 110.0 268.0C89.3 263.8 77.7 258.3 76.0 250.0Z" fill="#ee8f88"/><ellipse cx="670" cy="230" rx="55" ry="25" transform="rotate(0 670 230)" fill="#d1656a"/><ellipse cx="1130" cy="190" rx="65" ry="28" transform="rotate(0 1130 190)" fill="#d1656a"/><ellipse cx="1435" cy="235" rx="55" ry="28" transform="rotate(5 1435 235)" fill="#d1656a"/><ellipse cx="1845" cy="235" rx="60" ry="30" transform="rotate(25 1845 235)" fill="#d1656a"/><ellipse cx="435" cy="325" rx="55" ry="30" transform="rotate(30 435 325)" fill="#d1656a"/><ellipse cx="840" cy="315" rx="55" ry="30" transform="rotate(-10 840 315)" fill="#d1656a"/><ellipse cx="1235" cy="295" rx="60" ry="28" transform="rotate(-25 1235 295)" fill="#d1656a"/><ellipse cx="1615" cy="315" rx="50" ry="30" transform="rotate(0 1615 315)" fill="#d1656a"/><ellipse cx="2085" cy="365" rx="55" ry="25" transform="rotate(-10 2085 365)" fill="#d1656a"/><ellipse cx="730" cy="425" rx="65" ry="30" transform="rotate(0 730 425)" fill="#d1656a"/><ellipse cx="1115" cy="440" rx="70" ry="35" transform="rotate(0 1115 440)" fill="#d1656a"/><ellipse cx="1370" cy="430" rx="65" ry="28" transform="rotate(-10 1370 430)" fill="#d1656a"/><ellipse cx="1745" cy="410" rx="60" ry="30" transform="rotate(-10 1745 410)" fill="#d1656a"/></g>
</g>
<g id="labels" filter="url(#softt)" fill="#272727" font-family="'Liberation Sans', Arial, sans-serif"><text x="794.4" y="365.4" font-size="40.5" font-weight="700" textLength="220.2" lengthAdjust="spacingAndGlyphs" stroke="#272727" stroke-width="0.70">Osteoblasts</text><text x="808.8" y="413.0" font-size="40.5" font-weight="700" textLength="194.8" lengthAdjust="spacingAndGlyphs" stroke="#272727" stroke-width="0.70">Bone Cells</text><text x="2004.6" y="326.0" font-size="40.5" font-weight="700" textLength="251.8" lengthAdjust="spacingAndGlyphs" stroke="#272727" stroke-width="0.70">Chondrocytes</text><text x="1998.2" y="372.0" font-size="40.5" font-weight="700" textLength="265.2" lengthAdjust="spacingAndGlyphs" stroke="#272727" stroke-width="0.70">Cartilage Cells</text><text x="793.4" y="793.3" font-size="40.5" font-weight="700" textLength="203.9" lengthAdjust="spacingAndGlyphs" stroke="#272727" stroke-width="0.70">Adipocytes</text><text x="819.0" y="843.5" font-size="40.5" font-weight="700" textLength="156.4" lengthAdjust="spacingAndGlyphs" stroke="#272727" stroke-width="0.70">Fat Cells</text><text x="1972.2" y="793.5" font-size="40.5" font-weight="700" textLength="306.2" lengthAdjust="spacingAndGlyphs" stroke="#272727" stroke-width="0.70">Neurogenic Cells</text><text x="2016.4" y="839.7" font-size="40.5" font-weight="700" textLength="217.8" lengthAdjust="spacingAndGlyphs" stroke="#272727" stroke-width="0.70">Neural Cells</text><text x="808.6" y="1104.8" font-size="40.5" font-weight="700" textLength="175.6" lengthAdjust="spacingAndGlyphs" stroke="#272727" stroke-width="0.70">Myocytes</text><text x="781.2" y="1156.1" font-size="40.5" font-weight="700" textLength="230.4" lengthAdjust="spacingAndGlyphs" stroke="#272727" stroke-width="0.70">Muscle Cells</text><text x="2025.7" y="1112.8" font-size="40.5" font-weight="700" textLength="187.8" lengthAdjust="spacingAndGlyphs" stroke="#272727" stroke-width="0.70">Tenocytes</text><text x="2008.8" y="1159.3" font-size="40.5" font-weight="700" textLength="229.8" lengthAdjust="spacingAndGlyphs" stroke="#272727" stroke-width="0.70">Tendon cells</text><text x="1259.4" y="858.2" font-size="50.0" font-weight="700" textLength="559.8" lengthAdjust="spacingAndGlyphs">Mesenchymal Stem Cell</text></g>
<g id="msc" filter="url(#softt)"><g transform="translate(1280,450) scale(0.30105)"><path d="M290.0 232.0C301.3 229.7 361.7 250.8 400.0 258.0C438.3 265.2 478.3 272.2 520.0 275.0C561.7 277.8 603.3 279.2 650.0 275.0C696.7 270.8 758.3 262.5 800.0 250.0C841.7 237.5 866.7 220.0 900.0 200.0C933.3 180.0 973.0 149.3 1000.0 130.0C1027.0 110.7 1049.0 90.3 1062.0 84.0C1075.0 77.7 1081.7 81.0 1078.0 92.0C1074.3 103.0 1051.7 131.2 1040.0 150.0C1028.3 168.8 1010.5 192.0 1008.0 205.0C1005.5 218.0 1014.7 223.8 1025.0 228.0C1035.3 232.2 1049.2 234.7 1070.0 230.0C1090.8 225.3 1125.0 211.7 1150.0 200.0C1175.0 188.3 1200.3 170.0 1220.0 160.0C1239.7 150.0 1257.3 141.3 1268.0 140.0C1278.7 138.7 1287.0 140.3 1284.0 152.0C1281.0 163.7 1264.0 188.7 1250.0 210.0C1236.0 231.3 1212.5 258.3 1200.0 280.0C1187.5 301.7 1175.8 322.5 1175.0 340.0C1174.2 357.5 1182.5 373.3 1195.0 385.0C1207.5 396.7 1227.5 400.8 1250.0 410.0C1272.5 419.2 1303.0 432.0 1330.0 440.0C1357.0 448.0 1396.2 453.0 1412.0 458.0C1427.8 463.0 1430.3 466.3 1425.0 470.0C1419.7 473.7 1400.8 476.7 1380.0 480.0C1359.2 483.3 1320.3 484.7 1300.0 490.0C1279.7 495.3 1259.7 503.3 1258.0 512.0C1256.3 520.7 1271.3 532.3 1290.0 542.0C1308.7 551.7 1343.7 562.3 1370.0 570.0C1396.3 577.7 1433.5 582.7 1448.0 588.0C1462.5 593.3 1465.0 598.3 1457.0 602.0C1449.0 605.7 1426.2 609.3 1400.0 610.0C1373.8 610.7 1333.3 605.7 1300.0 606.0C1266.7 606.3 1226.7 606.0 1200.0 612.0C1173.3 618.0 1145.0 628.7 1140.0 642.0C1135.0 655.3 1155.0 675.3 1170.0 692.0C1185.0 708.7 1213.7 727.7 1230.0 742.0C1246.3 756.3 1263.3 768.7 1268.0 778.0C1272.7 787.3 1265.2 796.3 1258.0 798.0C1250.8 799.7 1243.0 796.8 1225.0 788.0C1207.0 779.2 1179.2 760.5 1150.0 745.0C1120.8 729.5 1083.3 709.2 1050.0 695.0C1016.7 680.8 983.3 667.5 950.0 660.0C916.7 652.5 883.3 649.2 850.0 650.0C816.7 650.8 783.3 653.3 750.0 665.0C716.7 676.7 683.3 695.8 650.0 720.0C616.7 744.2 583.3 780.0 550.0 810.0C516.7 840.0 477.0 877.3 450.0 900.0C423.0 922.7 402.3 938.3 388.0 946.0C373.7 953.7 367.0 953.7 364.0 946.0C361.0 938.3 365.7 919.3 370.0 900.0C374.3 880.7 383.3 855.0 390.0 830.0C396.7 805.0 408.0 771.7 410.0 750.0C412.0 728.3 408.7 710.8 402.0 700.0C395.3 689.2 387.0 686.7 370.0 685.0C353.0 683.3 328.3 687.5 300.0 690.0C271.7 692.5 221.7 698.8 200.0 700.0C178.3 701.2 175.8 700.7 170.0 697.0C164.2 693.3 160.0 685.8 165.0 678.0C170.0 670.2 180.8 661.3 200.0 650.0C219.2 638.7 258.3 623.3 280.0 610.0C301.7 596.7 323.3 583.3 330.0 570.0C336.7 556.7 330.0 541.7 320.0 530.0C310.0 518.3 293.3 508.0 270.0 500.0C246.7 492.0 208.3 486.7 180.0 482.0C151.7 477.3 114.7 477.3 100.0 472.0C85.3 466.7 82.8 457.0 92.0 450.0C101.2 443.0 128.7 438.3 155.0 430.0C181.3 421.7 220.8 413.3 250.0 400.0C279.2 386.7 312.5 365.0 330.0 350.0C347.5 335.0 354.7 323.0 355.0 310.0C355.3 297.0 342.8 285.0 332.0 272.0C321.2 259.0 278.7 234.3 290.0 232.0Z" fill="#f38f8f" stroke="#dc6c73" stroke-width="11" stroke-linejoin="round"/><path d="M640.0 410.0C655.3 390.7 673.3 366.0 700.0 352.0C726.7 338.0 766.7 328.0 800.0 326.0C833.3 324.0 873.7 331.0 900.0 340.0C926.3 349.0 946.3 365.0 958.0 380.0C969.7 395.0 972.7 415.0 970.0 430.0C967.3 445.0 957.0 460.8 942.0 470.0C927.0 479.2 903.7 481.7 880.0 485.0C856.3 488.3 822.5 485.5 800.0 490.0C777.5 494.5 759.7 502.3 745.0 512.0C730.3 521.7 725.5 540.3 712.0 548.0C698.5 555.7 679.0 561.7 664.0 558.0C649.0 554.3 631.3 541.0 622.0 526.0C612.7 511.0 605.0 487.3 608.0 468.0C611.0 448.7 624.7 429.3 640.0 410.0Z" fill="#cc6161"/></g></g>
</svg>
</body></html>
